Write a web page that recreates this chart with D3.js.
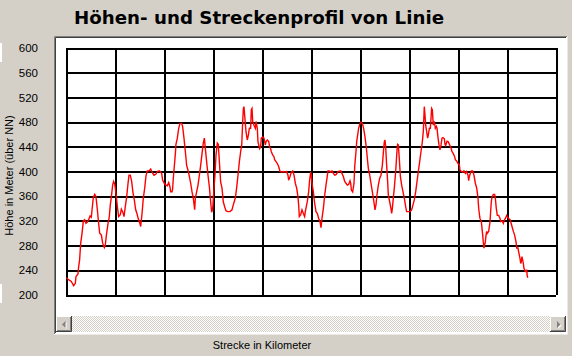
<!DOCTYPE html>
<html><head><meta charset="utf-8">
<script src="https://cdn.jsdelivr.net/npm/d3@7"></script>
<style>
html,body{margin:0;padding:0;background:#d4d0c8;}
svg{display:block;font-family:"Liberation Sans",Arial,sans-serif;}
</style></head>
<body>
<svg id="c" width="572" height="356"></svg>
<script>
// ---- data ----
const chartTitle = "Höhen- und Streckenprofil von Linie";
const yAxisTitle = "Höhe in Meter (über NN)";
const xAxisTitle = "Strecke in Kilometer";
const yTicks = [200,240,280,320,360,400,440,480,520,560,600];
const xGridKm = [0,5,10,15,20,25,30,35,40,45,50];
// profile: [km, height in m]
const profileA = [[0.03,228],[0.34,224],[0.54,222],[0.78,215],[0.95,219],[1.02,230],[1.22,234],[1.29,246],[1.39,257],[1.50,284],[1.63,299],[1.77,320],[1.90,322],[2.04,316],[2.18,318],[2.31,322],[2.45,328],[2.58,326],[2.69,343],[2.79,358],[2.93,363],[3.06,359],[3.20,338],[3.33,316],[3.44,300],[3.61,297],[3.74,284],[3.91,277],[4.01,281],[4.12,297],[4.29,316],[4.42,327],[4.52,346],[4.63,359],[4.76,378],[4.86,384],[4.97,380],[5.10,365],[5.24,343],[5.37,327],[5.54,330],[5.65,339],[5.78,335],[5.92,327],[6.05,343],[6.19,359],[6.33,381],[6.43,394],[6.56,394],[6.70,384],[6.84,365],[6.97,354],[7.11,338],[7.24,332],[7.38,323],[7.52,317],[7.62,311],[7.76,332],[7.89,357],[8.03,373],[8.16,393],[8.30,401],[8.47,401],[8.64,404],[8.81,398],[8.98,394],[9.18,396],[9.32,400],[9.52,401]];
const profileB = [[9.76,397],[9.86,386],[10.03,381],[10.20,378],[10.34,377],[10.48,382],[10.61,375],[10.68,367],[10.82,367],[10.88,372],[10.95,389],[11.05,408],[11.16,429],[11.22,444],[11.36,454],[11.50,470],[11.63,478],[11.80,478],[11.90,473],[12.04,454],[12.18,432],[12.31,410],[12.45,402],[12.59,392],[12.72,381],[12.86,367],[12.99,357],[13.13,338],[13.20,357],[13.33,367],[13.47,378],[13.61,394],[13.74,410],[13.88,429],[14.01,446],[14.12,454],[14.22,437],[14.35,416],[14.49,394],[14.63,375],[14.76,351],[14.86,334],[14.97,340],[15.03,354],[15.10,373],[15.20,394],[15.31,427],[15.44,446],[15.54,444],[15.65,416],[15.78,383],[15.92,373],[16.05,351],[16.19,343],[16.33,336],[16.53,335],[16.73,335],[16.94,338],[17.07,346],[17.28,357],[17.41,373],[17.55,394],[17.69,416],[17.82,432],[17.93,443],[18.03,481],[18.10,502],[18.16,505],[18.23,491],[18.37,464],[18.50,451],[18.61,459],[18.71,470],[18.84,470],[18.91,500],[18.98,502],[19.05,481],[19.18,475],[19.32,470],[19.39,481],[19.52,470],[19.59,448]];
const profileC = [[19.76,437],[19.86,440],[19.93,454],[20.07,456],[20.20,454],[20.34,443],[20.41,448],[20.54,451],[20.68,449],[20.78,440],[20.88,437],[20.95,432],[21.09,427],[21.22,424],[21.29,419],[21.43,416],[21.56,413],[21.70,408],[21.84,400],[21.97,399],[22.18,400],[22.38,399],[22.52,400],[22.65,394],[22.72,386],[22.86,392],[22.99,399],[23.13,401],[23.27,394],[23.40,381],[23.54,373],[23.67,359],[23.74,346],[23.81,327],[23.95,330],[24.08,338],[24.22,332],[24.35,327],[24.42,335],[24.52,343],[24.63,352],[24.76,367],[24.86,386],[24.97,399],[25.03,394],[25.10,381],[25.24,367],[25.37,349],[25.51,335],[25.65,332],[25.78,324],[25.92,319],[26.02,309],[26.12,324],[26.26,340],[26.40,362],[26.53,378],[26.63,389],[26.73,401],[26.87,401],[27.01,399],[27.14,401],[27.28,397],[27.42,394],[27.55,395],[27.76,400],[28.03,401],[28.16,397],[28.30,392],[28.44,384],[28.57,381],[28.71,378],[28.84,379],[28.98,385],[29.05,381],[29.12,370],[29.25,367],[29.39,381],[29.46,408]];
const profileD = [[29.59,432],[29.66,448],[29.76,459],[29.86,470],[29.97,476],[30.10,480],[30.24,478],[30.37,470],[30.51,456],[30.65,438],[30.75,421],[30.85,405],[30.99,394],[31.12,381],[31.26,367],[31.39,354],[31.53,338],[31.63,346],[31.73,362],[31.87,378],[32.01,389],[32.14,394],[32.28,410],[32.42,438],[32.48,448],[32.55,451],[32.62,440],[32.72,410],[32.82,384],[32.89,362],[33.03,351],[33.16,340],[33.23,332],[33.30,340],[33.40,357],[33.50,373],[33.64,400],[33.78,435],[33.84,444],[33.91,443],[34.01,421],[34.12,392],[34.25,378],[34.39,367],[34.52,357],[34.66,343],[34.76,335],[34.93,335],[35.10,335],[35.27,338],[35.41,346],[35.54,354],[35.68,367],[35.82,384],[35.95,400],[36.09,416],[36.22,432],[36.36,448],[36.46,465],[36.56,505],[36.63,492],[36.70,475],[36.80,465],[36.90,454],[36.97,459],[37.08,470],[37.18,470],[37.31,502],[37.38,500],[37.48,475],[37.58,481],[37.69,470],[37.79,473],[37.86,470],[37.93,459],[37.99,451],[38.06,443],[38.16,435],[38.27,443],[38.37,454],[38.47,455],[38.61,453],[38.67,444],[38.74,442],[38.88,449],[39.01,448],[39.15,443],[39.29,438]];
const profileE = [[39.39,432],[39.52,429],[39.66,424],[39.73,419],[39.86,417],[40.00,413],[40.14,411],[40.20,402],[40.34,400],[40.48,399],[40.61,401],[40.75,397],[40.88,400],[41.02,394],[41.09,385],[41.16,392],[41.26,397],[41.36,401],[41.50,401],[41.63,394],[41.77,381],[41.91,373],[42.04,357],[42.11,340],[42.24,324],[42.38,319],[42.45,308],[42.52,297],[42.58,286],[42.65,276],[42.72,281],[42.79,286],[42.86,297],[42.93,303],[42.99,300],[43.13,303],[43.27,319],[43.33,335],[43.40,351],[43.47,359],[43.61,363],[43.74,363],[43.81,357],[43.91,340],[44.01,329],[44.15,329],[44.29,324],[44.35,319],[44.49,320],[44.63,316],[44.69,320],[44.83,324],[44.97,329],[45.03,327],[45.17,324],[45.31,322],[45.37,319],[45.51,311],[45.65,303],[45.78,297],[45.92,286],[45.99,276],[46.12,276],[46.19,270],[46.33,259],[46.40,251],[46.46,254],[46.53,262],[46.67,251],[46.73,243],[46.80,241],[46.87,238],[46.94,238],[47.01,241],[47.07,230],[47.14,228]];
const profile = profileA.concat(profileB, profileC, profileD, profileE);

// ---- drawing ----
const svg = d3.select("#c");
const W = 572, H = 356;
const plot = {left:66, right:556, top:48, bottom:295};
const x = d3.scaleLinear().domain([0,50]).range([plot.left, plot.right]);
const y = d3.scaleLinear().domain([200,600]).range([plot.bottom, plot.top]);

// background
svg.append("rect").attr("width",W).attr("height",H).attr("fill","#d4d0c8");
// small white marks at left edge
svg.append("rect").attr("x",0).attr("y",43).attr("width",2).attr("height",19).attr("fill","#ffffff");
svg.append("rect").attr("x",0).attr("y",284).attr("width",2).attr("height",19).attr("fill","#ffffff");

// title
svg.append("text").attr("x",74).attr("y",24)
  .attr("font-size",18).attr("font-weight","bold").attr("fill","#000")
  .attr("font-family","'DejaVu Sans',Verdana,sans-serif")
  .attr("textLength",370).attr("lengthAdjust","spacingAndGlyphs")
  .text(chartTitle);

// sunken panel
svg.append("rect").attr("x",54).attr("y",36).attr("width",514).attr("height",298).attr("fill","#ffffff");
svg.append("path").attr("d","M54.5,334V36.5H567").attr("fill","none").attr("stroke","#808080");
svg.append("path").attr("d","M55.5,333V37.5H566").attr("fill","none").attr("stroke","#404040");
svg.append("path").attr("d","M55,333.5H566.5V37").attr("fill","none").attr("stroke","#ffffff");
svg.append("path").attr("d","M54,334.5H567.5V36").attr("fill","none").attr("stroke","#ece9e2");

// vertical grid
svg.append("g").attr("transform",`translate(0,${plot.bottom})`)
  .call(d3.axisBottom(x).tickValues(xGridKm).tickSize(-(plot.bottom-plot.top)).tickFormat(""))
  .call(g=>g.select(".domain").remove())
  .call(g=>g.selectAll(".tick line").attr("stroke","#000").attr("stroke-width",2).attr("shape-rendering","crispEdges"));

// horizontal grid + labels
svg.append("g").attr("transform",`translate(${plot.left},0)`)
  .call(d3.axisLeft(y).tickValues(yTicks).tickSize(-(plot.right-plot.left)).tickPadding(28).tickFormat(d3.format("d")))
  .call(g=>g.select(".domain").remove())
  .call(g=>g.selectAll(".tick line").attr("stroke","#000").attr("stroke-width",2).attr("shape-rendering","crispEdges"))
  .call(g=>g.selectAll(".tick text").attr("fill","#000").attr("font-size",11.5)
      .attr("font-family","'Liberation Sans',Arial,sans-serif"));

// profile line
svg.append("path").datum(profile)
  .attr("fill","none").attr("stroke","#ff0000").attr("stroke-width",1.4)
  .attr("stroke-linejoin","miter")
  .attr("d", d3.line().x(d=>x(d[0])).y(d=>y(d[1])));

// axis titles
svg.append("text").attr("transform","translate(12.5,175.5) rotate(-90)")
  .attr("text-anchor","middle").attr("font-size",11).attr("fill","#000").text(yAxisTitle);
svg.append("text").attr("x",262).attr("y",349)
  .attr("text-anchor","middle").attr("font-size",11).attr("fill","#000").text(xAxisTitle);

// scrollbar
const defs = svg.append("defs");
const pat = defs.append("pattern").attr("id","chk").attr("width",2).attr("height",2).attr("patternUnits","userSpaceOnUse");
pat.append("rect").attr("width",2).attr("height",2).attr("fill","#ffffff");
pat.append("rect").attr("x",0).attr("y",0).attr("width",1).attr("height",1).attr("fill","#d4d0c8");
pat.append("rect").attr("x",1).attr("y",1).attr("width",1).attr("height",1).attr("fill","#d4d0c8");
svg.append("rect").attr("x",56).attr("y",316).attr("width",510).attr("height",16).attr("fill","url(#chk)");

function button(x0, dir){
  const g = svg.append("g").attr("transform",`translate(${x0},316)`);
  g.append("rect").attr("width",16).attr("height",16).attr("fill","#d4d0c8");
  g.append("path").attr("d","M0.5,15V0.5H15").attr("stroke","#ffffff").attr("fill","none");
  g.append("path").attr("d","M0,15.5H15.5V0").attr("stroke","#404040").attr("fill","none");
  g.append("path").attr("d","M1,14.5H14.5V1").attr("stroke","#808080").attr("fill","none");
  if(dir<0){
    g.append("path").attr("d","M6,8.5L9.5,5V12Z").attr("fill","#ffffff").attr("transform","translate(1,1)");
    g.append("path").attr("d","M6,8.5L9.5,5V12Z").attr("fill","#808080");
  } else {
    g.append("path").attr("d","M7,5L10.5,8.5L7,12Z").attr("fill","#ffffff").attr("transform","translate(1,1)");
    g.append("path").attr("d","M7,5L10.5,8.5L7,12Z").attr("fill","#808080");
  }
}
button(56,-1);
button(550,1);
</script>
</body></html>
